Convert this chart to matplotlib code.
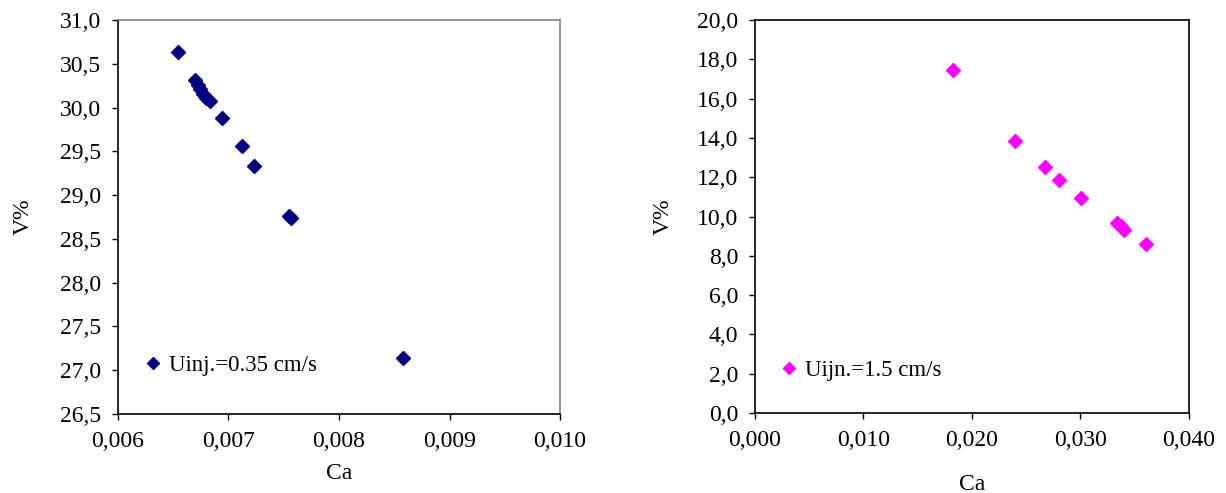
import matplotlib
matplotlib.use('Agg')
import matplotlib.pyplot as plt
from matplotlib.ticker import FuncFormatter, MultipleLocator

# left panel: Uinj = 0.35 cm/s
ca_low = [0.00654, 0.00670, 0.00672, 0.00674, 0.00677, 0.00680, 0.00683,
          0.00694, 0.00712, 0.00723, 0.00755, 0.00757, 0.00858]
v_low = [30.64, 30.31, 30.26, 30.21, 30.16, 30.11, 30.08,
         29.88, 29.56, 29.33, 28.76, 28.74, 27.14]

# right panel: Uijn = 1.5 cm/s
ca_high = [0.01825, 0.02398, 0.02677, 0.02805, 0.03005, 0.03339, 0.03371, 0.03402, 0.03600]
v_high = [17.44, 13.86, 12.50, 11.87, 10.96, 9.69, 9.50, 9.31, 8.61]

plt.rcParams['font.family'] = ['Liberation Serif', 'DejaVu Serif']
FS = 17


def comma(fmt):
    return FuncFormatter(lambda v, pos: (fmt % v).replace('.', ','))


fig = plt.figure(figsize=(12.26, 4.93), dpi=100)
ax1 = fig.add_axes([0.0962, 0.1602, 0.3606, 0.7992])
ax2 = fig.add_axes([0.6158, 0.1623, 0.3540, 0.7971])

ax1.plot(ca_low, v_low, 'D', color='#000080', markersize=7.5, linestyle='none',
         label='Uinj.=0.35 cm/s')
ax1.set_xlim(0.006, 0.010)
ax1.set_ylim(26.5, 31.0)
ax1.xaxis.set_major_locator(MultipleLocator(0.001))
ax1.yaxis.set_major_locator(MultipleLocator(0.5))
ax1.xaxis.set_major_formatter(comma('%.3f'))
ax1.yaxis.set_major_formatter(comma('%.1f'))
ax1.set_xlabel('Ca', fontsize=FS, labelpad=8)
ax1.set_ylabel('V%', fontsize=FS, labelpad=19)
for s in ('top', 'right'):
    ax1.spines[s].set_color('#808080')
ax1.legend(loc='center left', bbox_to_anchor=(0.059, 0.122), frameon=False,
           fontsize=16.5, handlelength=0.8, handletextpad=0.3, borderpad=0,
           borderaxespad=0, markerscale=0.85)

ax2.plot(ca_high, v_high, 'D', color='#FF00FF', markersize=7.5, linestyle='none',
         label='Uijn.=1.5 cm/s')
ax2.set_xlim(0.0, 0.040)
ax2.set_ylim(0.0, 20.0)
ax2.xaxis.set_major_locator(MultipleLocator(0.010))
ax2.yaxis.set_major_locator(MultipleLocator(2.0))
ax2.xaxis.set_major_formatter(comma('%.3f'))
ax2.yaxis.set_major_formatter(comma('%.1f'))
ax2.set_xlabel('Ca', fontsize=FS, labelpad=17)
ax2.set_ylabel('V%', fontsize=FS, labelpad=17)
ax2.legend(loc='center left', bbox_to_anchor=(0.058, 0.107), frameon=False,
           fontsize=16.5, handlelength=0.8, handletextpad=0.3, borderpad=0,
           borderaxespad=0, markerscale=0.85)

for ax in (ax1, ax2):
    ax.tick_params(direction='out', length=4, width=1, labelsize=FS, pad=8)
    for s in ax.spines.values():
        s.set_linewidth(1.2)

fig.savefig('out.png', dpi=100)
